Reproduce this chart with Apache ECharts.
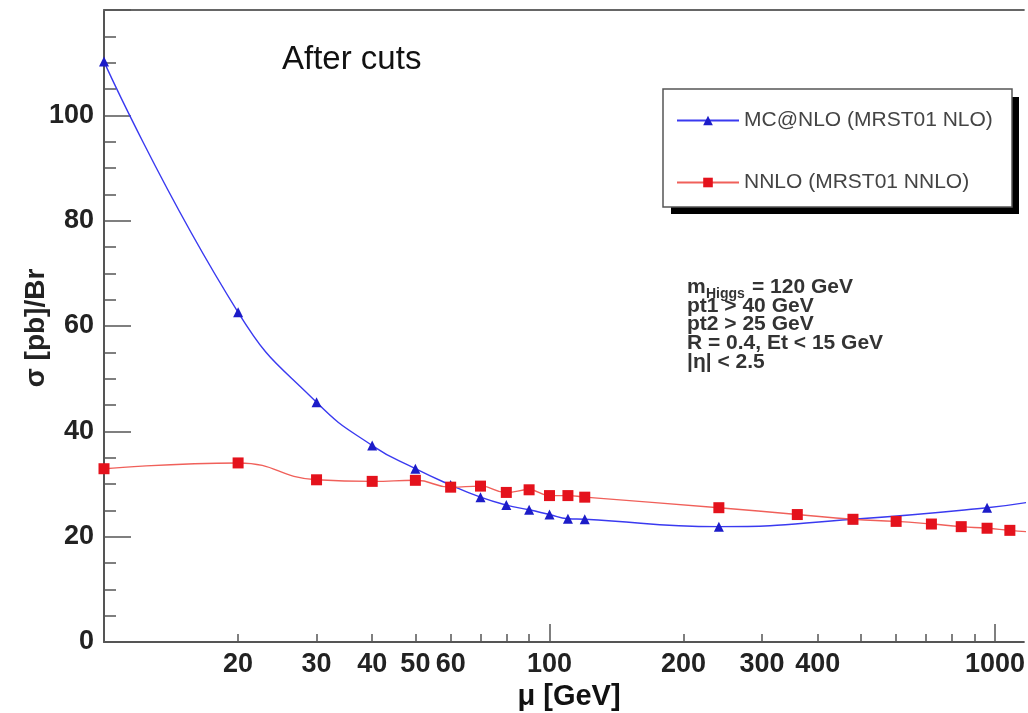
<!DOCTYPE html>
<html><head><meta charset="utf-8">
<script src="https://cdn.jsdelivr.net/npm/echarts@6/dist/echarts.min.js"></script>
<style>html,body{margin:0;padding:0;background:#fff}#c{width:1028px;height:713px}</style>
</head><body><div id="c"></div>
<script>
// ---- data ----
const seriesNames = ['MC@NLO (MRST01 NLO)', 'NNLO (MRST01 NNLO)'];
const muMC = [10, 20, 30, 40, 50, 60, 70, 80, 90, 100, 110, 120, 240, 480, 960, 1200];
const sigmaMC = [110.2, 62.6, 45.5, 37.3, 32.9, 29.8, 27.5, 26.0, 25.1, 24.2, 23.4, 23.3, 21.9, 23.3, 25.5, 26.6];
const muNNLO = [10, 20, 30, 40, 50, 60, 70, 80, 90, 100, 110, 120, 240, 360, 480, 600, 720, 840, 960, 1080, 1200];
const sigmaNNLO = [32.9, 34.0, 30.8, 30.5, 30.7, 29.4, 29.6, 28.4, 28.9, 27.8, 27.8, 27.5, 25.5, 24.2, 23.3, 22.9, 22.4, 21.9, 21.6, 21.2, 20.9];
const xTickLabels = [20, 30, 40, 50, 60, 100, 200, 300, 400, 1000];
const xSmallTicks = [20, 30, 40, 50, 60, 70, 80, 90, 200, 300, 400, 500, 600, 700, 800, 900];
const xLargeTicks = [100, 1000];
const yTickLabels = [0, 20, 40, 60, 80, 100];
const titleText = 'After cuts';
const xTitle = 'μ [GeV]';
const yTitle = 'σ [pb]/Br';
const cutLines = ['pt1 > 40 GeV', 'pt2 > 25 GeV', 'R = 0.4, Et < 15 GeV', '|η| < 2.5'];

// ---- chart ----
const FONT = '"Liberation Sans", Arial, Helvetica, sans-serif';
const AX = '#555';
const chart = echarts.init(document.getElementById('c'), null, {renderer: 'canvas'});
const tickLbl = {fontFamily: FONT, fontSize: 27, fontWeight: 'bold', color: '#222'};
const X_MIN = 10, X_MAX = 1161; // visible part of the axis (the picture is cropped at the right)

chart.setOption({
  animation: false,
  backgroundColor: '#fff',
  grid: {left: 104, top: 10, right: 0, height: 632, show: false},
  xAxis: [
    {
      type: 'log', logBase: 10, min: X_MIN, max: X_MAX, position: 'bottom',
      axisLine: {show: true, onZero: false, lineStyle: {color: AX, width: 2}},
      axisTick: {show: true, inside: true, length: 8, customValues: xSmallTicks, lineStyle: {color: AX, width: 1.5}},
      axisLabel: Object.assign({show: true, margin: 9, customValues: xTickLabels, formatter: v => String(Math.round(v))}, tickLbl),
      splitLine: {show: false}, minorTick: {show: false}
    },
    {
      type: 'log', logBase: 10, min: X_MIN, max: X_MAX, position: 'bottom',
      axisLine: {show: false},
      axisTick: {show: true, inside: true, length: 18, customValues: xLargeTicks, lineStyle: {color: AX, width: 1.5}},
      axisLabel: {show: false, customValues: xLargeTicks},
      splitLine: {show: false}
    },
    {
      type: 'log', logBase: 10, min: X_MIN, max: X_MAX, position: 'top',
      axisLine: {show: true, lineStyle: {color: '#666', width: 2}},
      axisTick: {show: false}, axisLabel: {show: false}, splitLine: {show: false}
    }
  ],
  yAxis: {
    type: 'value', min: 0, max: 120, interval: 20,
    axisLine: {show: true, onZero: false, lineStyle: {color: AX, width: 2}},
    axisTick: {show: true, inside: true, length: 27, lineStyle: {color: AX, width: 1.5}},
    minorTick: {show: true, splitNumber: 4, length: 12, lineStyle: {color: AX, width: 1.5}},
    axisLabel: Object.assign({margin: 10, formatter: v => (yTickLabels.indexOf(v) >= 0 ? String(v) : '')}, tickLbl),
    splitLine: {show: false}, minorSplitLine: {show: false}
  },
  legend: {
    orient: 'vertical', left: 663, top: 89,
    padding: [21, 18, 15, 13], itemGap: 41, itemWidth: 62, itemHeight: 12,
    backgroundColor: 'transparent', borderWidth: 0,
    textStyle: {fontFamily: FONT, fontSize: 21, color: '#444'},
    data: seriesNames
  },
  series: [
    {
      name: seriesNames[0], type: 'line', xAxisIndex: 0,
      data: muMC.map((m, i) => [m, sigmaMC[i]]),
      smooth: 0.5, symbol: 'triangle', symbolSize: 10, showAllSymbol: true,
      lineStyle: {color: '#3a3af0', width: 1.4},
      itemStyle: {color: '#1c1cc8'}, z: 2
    },
    {
      name: seriesNames[1], type: 'line', xAxisIndex: 0,
      data: muNNLO.map((m, i) => [m, sigmaNNLO[i]]),
      smooth: 0.5, symbol: 'rect', symbolSize: 11, showAllSymbol: true,
      lineStyle: {color: '#f0605a', width: 1.4},
      itemStyle: {color: '#e4121c'}, z: 3
    }
  ],
  graphic: [
    {type: 'rect', z: 1, shape: {x: 671, y: 97, width: 348, height: 117}, style: {fill: '#000'}},
    {type: 'rect', z: 2, shape: {x: 663, y: 89, width: 349, height: 118}, style: {fill: '#fff', stroke: '#555', lineWidth: 1.5}},
    {type: 'text', left: 282, top: 43, style: {text: titleText, font: '33px ' + FONT, fill: '#111', shadowColor: 'rgba(0,0,0,0.25)', shadowBlur: 4, shadowOffsetY: 3}},
    {type: 'text', x: 569, y: 697, style: {text: xTitle, font: 'bold 29px ' + FONT, fill: '#111', align: 'center', verticalAlign: 'middle'}},
    {type: 'text', x: 36, y: 328, rotation: Math.PI / 2, style: {text: yTitle, font: 'bold 28px ' + FONT, fill: '#222', align: 'center', verticalAlign: 'middle'}},
    {type: 'text', x: 687, y: 287, style: {text: 'm', font: 'bold 21px ' + FONT, fill: '#333', verticalAlign: 'middle'}},
    {type: 'text', x: 706, y: 294, style: {text: 'Higgs', font: 'bold 14px ' + FONT, fill: '#333', verticalAlign: 'middle'}},
    {type: 'text', x: 752, y: 287, style: {text: '= 120 GeV', font: 'bold 21px ' + FONT, fill: '#333', verticalAlign: 'middle'}}
  ].concat(cutLines.map((t, i) => ({
    type: 'text', x: 687, y: 306 + i * 18.7,
    style: {text: t, font: 'bold 21px ' + FONT, fill: '#333', verticalAlign: 'middle'}
  })))
});
</script>
</body></html>
